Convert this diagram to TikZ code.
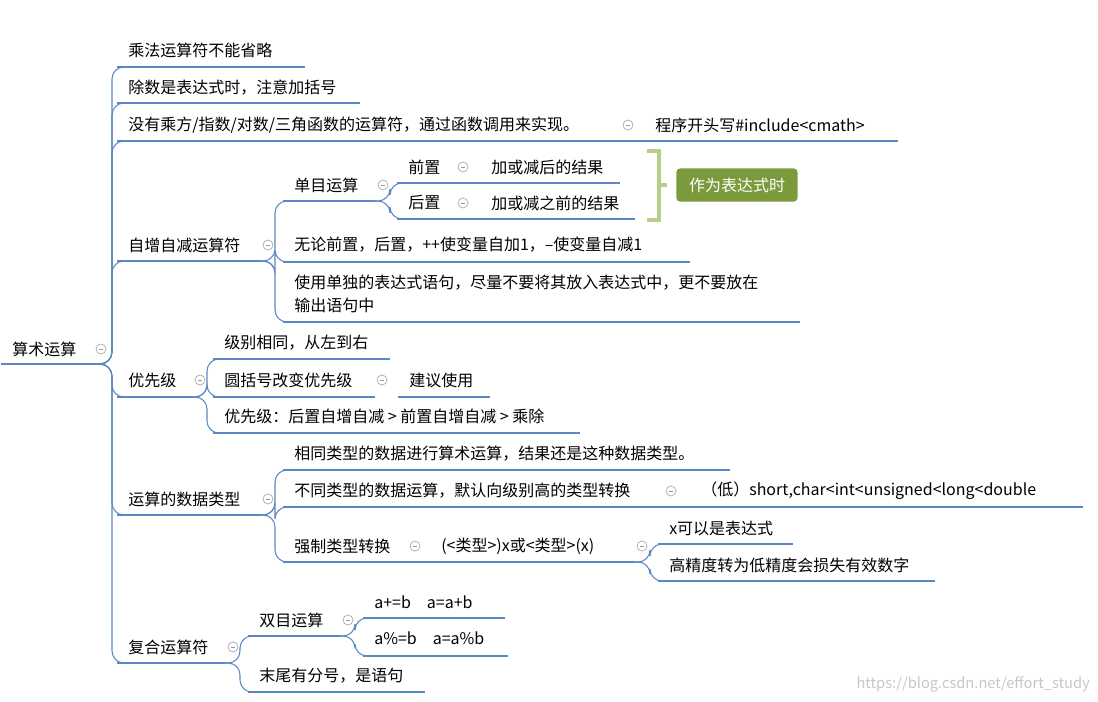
\documentclass[tikz,border=0pt]{standalone}
\usepackage{fontspec}
\setmainfont{Noto Sans CJK SC}
\usetikzlibrary{calc}
\definecolor{ub}{HTML}{5B87C2}
\definecolor{gr}{HTML}{7A9A3C}
\definecolor{lg}{HTML}{B5CF8A}
\tikzset{
 uline/.style={ub,line width=2.2pt},
 conn/.style={ub,line width=0.8pt,rounded corners=9},
 txt/.style={anchor=west,inner sep=0pt,font=\fontsize{12}{17}\selectfont,align=left},
 icon/.style={circle,draw=gray!70,line width=0.5pt,minimum size=7.5pt,inner sep=0pt,
   path picture={\draw[gray!80,line width=0.5pt] ([xshift=-1.8pt]path picture bounding box.center)--([xshift=1.8pt]path picture bounding box.center);}}
}
\newcommand\mn[6]{%
 \coordinate (#1-s) at (#2,#4); \coordinate (#1-e) at (#3,#4);
 \draw[uline] (#1-s) -- (#1-e);
 \node[txt] (#1) at (#2+11,#5) {#6};}
\newcommand\cn[3]{\draw[conn] let \p1=(#2-s) in (#1-e) -| (#3,\y1) -- (#2-s);}
\newcommand\ic[3]{\node[icon] (#1) at (#2,#3) {};}
\begin{document}
\begin{tikzpicture}[x=0.75pt,y=-0.75pt]
\useasboundingbox (0,0) rectangle (1098,702);
% root
\mn{root}{1}{95}{364}{349}{算术运算}
\node[txt] at (12,349) {};
\ic{ir}{101}{349}
% level 1
\mn{a}{117}{305}{67}{50}{乘法运算符不能省略}
\mn{b}{117}{360}{103}{88}{除数是表达式时，注意加括号}
\mn{c}{117}{620}{141}{125}{没有乘方/指数/对数/三角函数的运算符，通过函数调用来实现。}
\ic{ic}{628}{125}
\mn{c1}{644}{898}{141}{125}{程序开头写\#include<cmath>}
\mn{d}{117}{260}{261}{245}{自增自减运算符}
\ic{id}{268}{245}
\mn{e}{117}{193}{397}{380}{优先级}
\ic{ie}{200}{380}
\mn{f}{117}{260}{515}{499}{运算的数据类型}
\ic{if}{268}{499}
\mn{g}{117}{225}{663}{647}{复合运算符}
\ic{ig}{233}{647}
\foreach \k in {a,b,c,d,e,f,g}{\cn{root}{\k}{112}}
\draw[conn] (c-e) -- (c1-s);
% 自增自减
\mn{d1}{283}{375}{201}{185}{单目运算}
\ic{id1}{383}{185}
\mn{d11}{397}{480}{183}{167}{前置}
\ic{id11}{463}{167}
\mn{d111}{480}{620}{183}{167}{加或减后的结果}
\mn{d12}{397}{480}{219}{203}{后置}
\ic{id12}{463}{203}
\mn{d121}{480}{635}{219}{203}{加或减之前的结果}
\mn{d2}{283}{690}{262}{245}{无论前置，后置，++使变量自加1，--使变量自减1}
\mn{d3}{283}{800}{322}{294}{使用单独的表达式语句，尽量不要将其放入表达式中，更不要放在\\输出语句中}
\foreach \k in {d1,d2,d3}{\cn{d}{\k}{275}}
\foreach \k in {d11,d12}{\cn{d1}{\k}{390}}
% bracket
\draw[lg,line width=2.5pt] (647,151) -- (659,151) -- (659,220) -- (647,220);
\draw[lg,line width=2.5pt] (659,185) -- (667,185);
\node[fill=gr,rounded corners=3pt,minimum width=91pt,minimum height=25pt,inner sep=0pt,text=white,font=\fontsize{12}{14}\selectfont\itshape] (lab) at (737,185) {作为表达式时};
% 优先级
\mn{e1}{213}{390}{359}{343}{级别相同，从左到右}
\mn{e2}{213}{375}{397}{380}{圆括号改变优先级}
\ic{ie2}{382}{380}
\mn{e21}{398}{490}{397}{380}{建议使用}
\mn{e3}{213}{580}{433}{416}{优先级：后置自增自减 > 前置自增自减 > 乘除}
\foreach \k in {e1,e2,e3}{\cn{e}{\k}{207}}
% 数据类型
\mn{f1}{283}{730}{470}{454}{相同类型的数据进行算术运算，结果还是这种数据类型。}
\mn{f2}{283}{660}{507}{491}{不同类型的数据运算，默认向级别高的类型转换}
\ic{if2}{671}{491}
\mn{f21}{690}{1083}{507}{491}{（低）short,char<int<unsigned<long<double}
\mn{f3}{283}{403}{562}{546}{强制类型转换}
\ic{if3}{415}{546}
\mn{f31}{430}{635}{562}{546}{(<类型>)x或<类型>(x)}
\ic{if31}{642}{546}
\mn{f311}{658}{793}{544}{528}{x可以是表达式}
\mn{f312}{658}{935}{581}{565}{高精度转为低精度会损失有效数字}
\foreach \k in {f1,f2,f3}{\cn{f}{\k}{275}}
\draw[conn] (f2-e) -- (f21-s);
\draw[conn] (f3-e) -- (f31-s);
\foreach \k in {f311,f312}{\cn{f31}{\k}{650}}
% 复合
\mn{g1}{248}{340}{636}{620}{双目运算}
\ic{ig1}{348}{620}
\mn{g11}{363}{505}{618}{602}{a+=b\quad a=a+b}
\mn{g12}{363}{508}{656}{638}{a\%=b\quad a=a\%b}
\mn{g2}{248}{425}{692}{676}{末尾有分号，是语句}
\foreach \k in {g1,g2}{\cn{g}{\k}{240}}
\foreach \k in {g11,g12}{\cn{g1}{\k}{355}}
\node[anchor=east,inner sep=0pt,text=gray!45,font=\fontsize{11}{13}\selectfont] (wm) at (1090,684) {https://blog.csdn.net/effort\_study};
\end{tikzpicture}
\end{document}
